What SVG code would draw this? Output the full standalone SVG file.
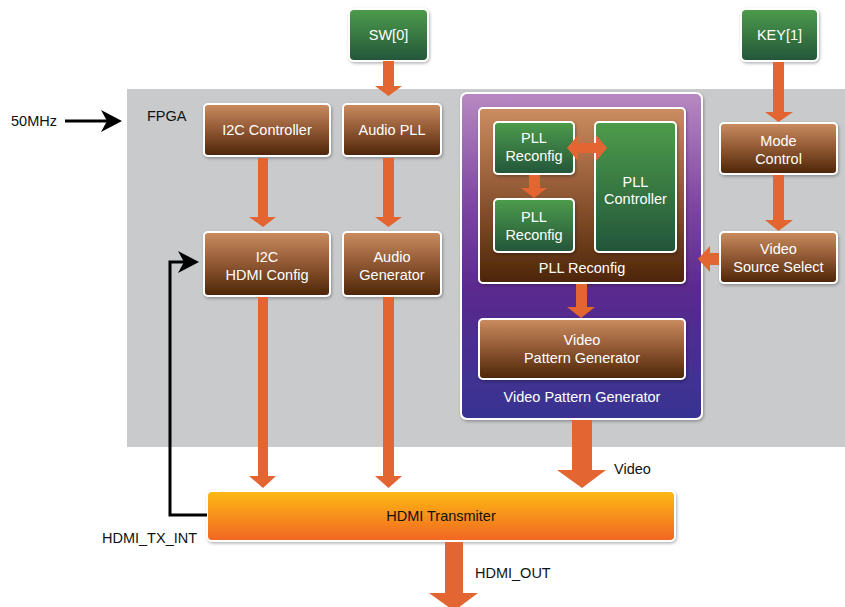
<svg xmlns="http://www.w3.org/2000/svg" width="845" height="607" viewBox="0 0 845 607">
<defs>
<linearGradient id="gBrown" x1="0" y1="0" x2="0" y2="1">
<stop offset="0" stop-color="#cb8c60"/><stop offset="0.5" stop-color="#8f5733"/><stop offset="1" stop-color="#4c2507"/>
</linearGradient>
<linearGradient id="gGreen" x1="0" y1="0" x2="0" y2="1">
<stop offset="0" stop-color="#4d9c4b"/><stop offset="1" stop-color="#23553a"/>
</linearGradient>
<linearGradient id="gPurple" x1="0" y1="0" x2="0" y2="1">
<stop offset="0" stop-color="#b889c2"/><stop offset="0.35" stop-color="#7c45a0"/><stop offset="0.6" stop-color="#5b2a8e"/><stop offset="1" stop-color="#363392"/>
</linearGradient>
<linearGradient id="gOrange" x1="0" y1="0" x2="0" y2="1">
<stop offset="0" stop-color="#fdbb14"/><stop offset="1" stop-color="#f26524"/>
</linearGradient>
<filter id="sh" x="-10%" y="-10%" width="130%" height="130%">
<feDropShadow dx="1" dy="1.5" stdDeviation="1.5" flood-color="#000" flood-opacity="0.3"/>
</filter>
<style>
.box{stroke:#fff;stroke-width:2;filter:url(#sh)}
.brown{fill:url(#gBrown)}
.green{fill:url(#gGreen)}
.wt{fill:#fff;font-family:"Liberation Sans",Arial,sans-serif;font-size:14.5px;text-anchor:middle}
.bt{fill:#111;font-family:"Liberation Sans",Arial,sans-serif;font-size:14.5px}
.arr{fill:#e36532}
.blk{fill:none;stroke:#000;stroke-width:3}
</style>
</defs>
<rect x="0" y="0" width="845" height="607" fill="#fff"/>
<rect id="fpga" x="127" y="89" width="718" height="358" fill="#c9cacc"/>
<text class="bt" x="147" y="121">FPGA</text>
<text class="bt" x="11" y="126">50MHz</text>
<text class="bt" x="102" y="543">HDMI_TX_INT</text>
<text class="bt" x="614" y="474">Video</text>
<text class="bt" x="475" y="578">HDMI_OUT</text>

<g id="vpg-container">
<rect class="box" x="461" y="93" width="241" height="326" rx="6" fill="url(#gPurple)"/>
<text class="wt" x="582" y="402">Video Pattern Generator</text>
</g>
<g id="pll-reconfig-container">
<rect class="box brown" x="479" y="108" width="206" height="175" rx="4"/>
<text class="wt" x="582" y="273">PLL Reconfig</text>
</g>

<g id="sw0"><rect class="box green" x="349" y="9" width="79" height="52" rx="5"/><text class="wt" x="388.5" y="40">SW[0]</text></g>
<g id="key1"><rect class="box green" x="741" y="9" width="77" height="52" rx="5"/><text class="wt" x="779.5" y="40">KEY[1]</text></g>
<g id="i2c-ctrl"><rect class="box brown" x="204" y="104" width="126" height="52" rx="4"/><text class="wt" x="267" y="135">I2C Controller</text></g>
<g id="audio-pll"><rect class="box brown" x="343" y="104" width="98" height="52" rx="4"/><text class="wt" x="392" y="135">Audio PLL</text></g>
<g id="i2c-hdmi"><rect class="box brown" x="204" y="232" width="126" height="64" rx="4"/><text class="wt" x="267" y="262">I2C</text><text class="wt" x="267" y="280">HDMI Config</text></g>
<g id="audio-gen"><rect class="box brown" x="343" y="232" width="98" height="64" rx="4"/><text class="wt" x="392" y="262">Audio</text><text class="wt" x="392" y="280">Generator</text></g>
<g id="mode-ctrl"><rect class="box brown" x="720" y="123" width="117" height="51" rx="4"/><text class="wt" x="778.5" y="146">Mode</text><text class="wt" x="778.5" y="164">Control</text></g>
<g id="video-src"><rect class="box brown" x="720" y="232" width="117" height="51" rx="4"/><text class="wt" x="778.5" y="254">Video</text><text class="wt" x="778.5" y="272">Source Select</text></g>
<g id="pll-reconfig-1"><rect class="box green" x="494" y="122" width="80" height="52" rx="4"/><text class="wt" x="534" y="143">PLL</text><text class="wt" x="534" y="161">Reconfig</text></g>
<g id="pll-reconfig-2"><rect class="box green" x="494" y="199" width="80" height="53" rx="4"/><text class="wt" x="534" y="222">PLL</text><text class="wt" x="534" y="240">Reconfig</text></g>
<g id="pll-ctrl"><rect class="box green" x="595" y="122" width="81" height="130" rx="4"/><text class="wt" x="635.5" y="187">PLL</text><text class="wt" x="635.5" y="204">Controller</text></g>
<g id="vpg"><rect class="box brown" x="479" y="319" width="206" height="60" rx="4"/><text class="wt" x="582" y="345">Video</text><text class="wt" x="582" y="363">Pattern Generator</text></g>
<g id="hdmi-tx"><rect class="box" x="207" y="491" width="468" height="50" rx="5" fill="url(#gOrange)"/><text class="bt" x="441" y="521" text-anchor="middle">HDMI Transmiter</text></g>

<g id="connectors">
<polygon class="arr" points="383,61 394,61 394,86 402,86 388.5,96 375,86 383,86"/>
<polygon class="arr" points="258,158 268,158 268,217 276,217 263,227 249,217 258,217"/>
<polygon class="arr" points="383,158 394,158 394,217 402,217 388.5,227 375,217 383,217"/>
<polygon class="arr" points="258,297 268,297 268,476 276,476 263,488 249,476 258,476"/>
<polygon class="arr" points="383,297 394,297 394,476 402,476 388.5,488 375,476 383,476"/>
<polygon class="arr" points="773,62 784,62 784,112 793,112 778.5,122 765,112 773,112"/>
<polygon class="arr" points="773,175 784,175 784,220 793,220 778.5,231 765,220 773,220"/>
<polygon class="arr" points="719,253 710,253 710,246 698,259 710,272 710,265 719,265"/>
<polygon class="arr" points="567,148 578,135 578,143 596,143 596,135 607,148 596,161 596,153 578,153 578,161"/>
<polygon class="arr" points="529,175 540,175 540,188 547,188 534,198 521,188 529,188"/>
<polygon class="arr" points="576,284 587,284 587,307 595,307 581,318 567,307 576,307"/>
<polygon class="arr" points="572,420 592,420 592,470 606,470 582,488 557,470 572,470"/>
<polygon class="arr" points="445,542 463,542 463,593 478,593 454,611 429,593 445,593"/>
<line class="blk" x1="65" y1="121" x2="108" y2="121"/>
<polygon points="122,121 101,110 107,121 101,132" fill="#000"/>
<polyline class="blk" points="207,515 170,515 170,262 186,262"/>
<polygon points="199,262 178,251 184,262 178,273" fill="#000"/>
</g>
</svg>
